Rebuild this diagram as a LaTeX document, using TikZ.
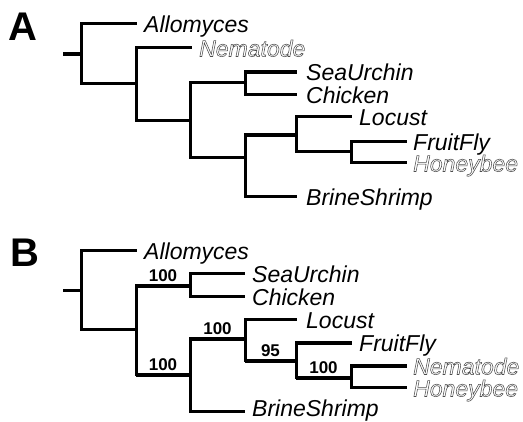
\documentclass[tikz,border=0pt]{standalone}
\usepackage{fontspec}
\setmainfont{Liberation Sans}
\begin{document}
\begin{tikzpicture}[x=1pt,y=-1pt,
  br/.style={line width=3pt},
  thk/.style={line width=4.6pt},
  lab/.style={anchor=base west,inner sep=0pt,font=\fontsize{23}{26}\selectfont\itshape},
  glab/.style={lab},
  sup/.style={anchor=south,inner sep=2pt,font=\fontsize{17}{19}\selectfont\bfseries},
  panel/.style={anchor=base west,inner sep=0pt,font=\fontsize{40}{44}\selectfont\bfseries}]
\useasboundingbox (0,0) rectangle (523,422);
\newcommand{\hollow}[1]{\special{pdf:literal direct 1 Tr 0.55 w 0.3 G}#1\special{pdf:literal direct 0 Tr 0 G}}
% ---------- Panel A ----------
\node[panel] (pA) at (8,41) {A};
\coordinate (Ar) at (63,54);
\coordinate (A1) at (81,54);
\coordinate (Aallo) at (137,24);
\coordinate (A2) at (136,84);
\coordinate (Anema) at (192,48);
\coordinate (A3) at (190,121);
\coordinate (A4) at (245,83);
\coordinate (A5) at (245,158);
\coordinate (Asea) at (297,72);
\coordinate (Achi) at (297,95);
\coordinate (A6) at (296,135);
\coordinate (Abri) at (297,197);
\coordinate (Aloc) at (352,117);
\coordinate (A7) at (351,152);
\coordinate (Afru) at (407,142);
\coordinate (Ahon) at (407,163);
\draw[thk] (Ar) -- (A1);
\foreach \p/\c in {A1/Aallo,A1/A2,A2/Anema,A2/A3,A3/A4,A3/A5,A4/Asea,A4/Achi,A5/A6,A5/Abri,A6/Aloc,A6/A7,A7/Afru,A7/Ahon}
  \draw[br] (\p) |- (\c);
\draw[thk] (A4 |- Asea) -- (Asea);
\draw[thk] (A5 |- A6) -- (A6);
\node[lab] (lAallo) at ([xshift=7pt,yshift=-8.5pt]Aallo) {Allomyces};
\node[glab] (lAnema) at ([xshift=7pt,yshift=-8.5pt]Anema) {\hollow{Nematode}};
\node[lab] (lAsea) at ([xshift=9pt,yshift=-8.5pt]Asea) {SeaUrchin};
\node[lab] (lAchi) at ([xshift=9pt,yshift=-8.5pt]Achi) {Chicken};
\node[lab] (lAloc) at ([xshift=7pt,yshift=-8.5pt]Aloc) {Locust};
\node[lab] (lAfru) at ([xshift=6pt,yshift=-8.5pt]Afru) {FruitFly};
\node[glab] (lAhon) at ([xshift=6pt,yshift=-8.5pt]Ahon) {\hollow{Honeybee}};
\node[lab] (lAbri) at ([xshift=9pt,yshift=-8.5pt]Abri) {BrineShrimp};
% ---------- Panel B ----------
\node[panel] (pB) at (10,267) {B};
\coordinate (Br) at (63,291);
\coordinate (B1) at (81,291);
\coordinate (Ballo) at (137,251);
\coordinate (B2) at (136,330);
\coordinate (B3) at (190,286);
\coordinate (B4) at (190,375);
\coordinate (Bsea) at (245,274);
\coordinate (Bchi) at (245,297);
\coordinate (B5) at (245,339);
\coordinate (Bbri) at (245,412);
\coordinate (Bloc) at (297,320);
\coordinate (B6) at (296,361);
\coordinate (Bfru) at (352,343);
\coordinate (B7) at (351,378);
\coordinate (Bnema) at (407,366);
\coordinate (Bhon) at (407,388);
\draw[br] (Br) -- (B1);
\foreach \p/\c in {B1/Ballo,B1/B2,B2/B3,B2/B4,B3/Bsea,B3/Bchi,B4/B5,B4/Bbri,B5/Bloc,B5/B6,B6/Bfru,B6/B7,B7/Bnema,B7/Bhon}
  \draw[br] (\p) |- (\c);
\draw[thk] (B2 |- B3) -- node[sup] (s1) {100} (B3);
\draw[thk] (B2 |- B4) -- node[sup] (s2) {100} (B4);
\draw[thk] (B4 |- B5) -- node[sup] (s3) {100} (B5);
\draw[thk] (B5 |- B6) -- node[sup] (s4) {95} (B6);
\draw[thk] (B6 |- B7) -- node[sup] (s5) {100} (B7);
\draw[thk] (B6 |- Bfru) -- (Bfru);
\draw[thk] (B7 |- Bnema) -- (Bnema);
\node[lab] (lBallo) at ([xshift=7pt,yshift=-8.5pt]Ballo) {Allomyces};
\node[lab] (lBsea) at ([xshift=7pt,yshift=-8.5pt]Bsea) {SeaUrchin};
\node[lab] (lBchi) at ([xshift=7pt,yshift=-8.5pt]Bchi) {Chicken};
\node[lab] (lBloc) at ([xshift=9pt,yshift=-8.5pt]Bloc) {Locust};
\node[lab] (lBfru) at ([xshift=7pt,yshift=-8.5pt]Bfru) {FruitFly};
\node[glab] (lBnema) at ([xshift=6pt,yshift=-8.5pt]Bnema) {\hollow{Nematode}};
\node[glab] (lBhon) at ([xshift=6pt,yshift=-8.5pt]Bhon) {\hollow{Honeybee}};
\node[lab] (lBbri) at ([xshift=7pt,yshift=-5pt]Bbri) {BrineShrimp};
\end{tikzpicture}
\end{document}
